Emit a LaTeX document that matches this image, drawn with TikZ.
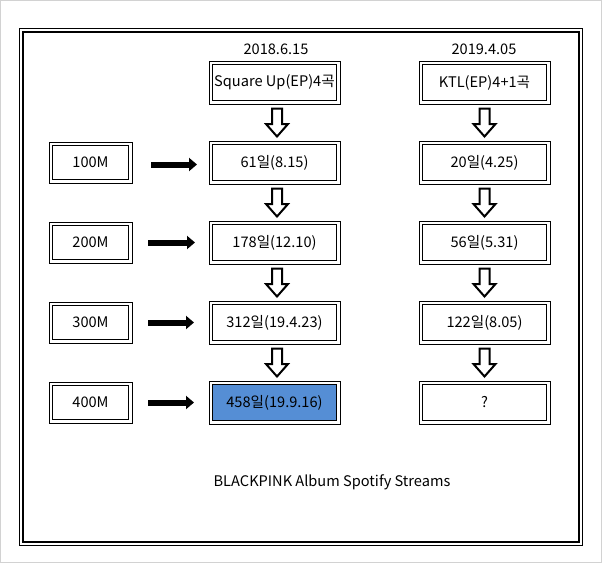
\documentclass[tikz,border=0pt]{standalone}
\usepackage{fontspec}
\setmainfont{Noto Sans CJK KR}
\usetikzlibrary{calc,arrows.meta}
\definecolor{boxblue}{RGB}{85,142,213}
\begin{document}
\begin{tikzpicture}[x=1pt,y=-1pt,font=\fontsize{14.6}{17}\selectfont,
  mainbox/.style={draw,line width=1pt,minimum width=131pt,minimum height=43pt,inner sep=0pt,outer sep=0pt},
  sidebox/.style={draw,line width=1pt,minimum width=83pt,minimum height=41pt,inner sep=0pt,outer sep=0pt},
  innerline/.style={line width=1.8pt},
  hollow/.style={draw,line width=2pt,fill=white,line join=miter},
  blackarrow/.style={line width=6pt,-{Triangle[length=8pt,width=13pt]}},
  lbl/.style={inner sep=0pt}]
\useasboundingbox (0,0) rectangle (602,563);
\draw[gray!35,line width=1pt] (0.5,0.5) rectangle (601.5,562.5);
% outer frame
\draw[line width=1pt] (19.5,28.5) rectangle (582.5,545.5);
\draw[line width=1.8pt] (23,32) rectangle (579,542);
% labels
\node[lbl] (d1) at (276,49) {2018.6.15};
\node[lbl] (d2) at (484,49) {2019.4.05};
\node[lbl] (cap) at (332,482) {BLACKPINK Album Spotify Streams};
% main boxes
\node[mainbox] (sq) at (274.5,82.5) {};
\node[mainbox] (ktl) at (484.5,82.5) {};
\node[mainbox] (a1) at (274.5,162.5) {};
\node[mainbox] (a2) at (274.5,242.5) {};
\node[mainbox] (a3) at (274.5,322.5) {};
\node[mainbox] (a4) at (274.5,402.5) {};
\node[mainbox] (b1) at (484.5,162.5) {};
\node[mainbox] (b2) at (484.5,242.5) {};
\node[mainbox] (b3) at (484.5,322.5) {};
\node[mainbox] (b4) at (484.5,402.5) {};
\node[sidebox] (m1) at (90.5,162.5) {};
\node[sidebox] (m2) at (90.5,242.5) {};
\node[sidebox] (m3) at (90.5,322.5) {};
\node[sidebox] (m4) at (90.5,402.5) {};
\foreach \n in {sq,ktl,a1,a2,a3,b1,b2,b3,b4,m1,m2,m3,m4}
  \draw[innerline] ([shift={(3.5,3.5)}]\n.north west) rectangle ([shift={(-3.5,-3.5)}]\n.south east);
\draw[innerline,fill=boxblue] ([shift={(3.5,3.5)}]a4.north west) rectangle ([shift={(-3.5,-3.5)}]a4.south east);
% texts
\node[lbl] at (sq) {Square Up(EP)4곡};
\node[lbl] at (ktl) {KTL(EP)4+1곡};
\node[lbl] at (a1) {61일(8.15)};
\node[lbl] at (a2) {178일(12.10)};
\node[lbl] at (a3) {312일(19.4.23)};
\node[lbl] at (a4) {458일(19.9.16)};
\node[lbl] at (b1) {20일(4.25)};
\node[lbl] at (b2) {56일(5.31)};
\node[lbl] at (b3) {122일(8.05)};
\node[lbl] at (b4) {?};
\node[lbl] at (m1) {100M};
\node[lbl] at (m2) {200M};
\node[lbl] at (m3) {300M};
\node[lbl] at (m4) {400M};
% hollow arrows
\foreach \u/\v/\dx in {sq/a1/2.5,a1/a2/2.5,a2/a3/2.5,a3/a4/2.5,ktl/b1/0,b1/b2/0,b2/b3/0,b3/b4/0}{
  \coordinate (h) at ($(\u.south)!0.5!(\v.north)+(\dx,0)$);
  \begin{scope}[shift={(h)}]
    \draw[hollow] (-5,-14) -- (5,-14) -- (5,1.5) -- (11,1.5) -- (0,14) -- (-11,1.5) -- (-5,1.5) -- cycle;
  \end{scope}
}
% black arrows
\draw[blackarrow] ($(m1.east)+(19,2)$) -- ($(a1.west)+(-12,2)$);
\draw[blackarrow] ($(m2.east)+(16,0)$) -- ($(a2.west)+(-14,0)$);
\draw[blackarrow] ($(m3.east)+(16,0)$) -- ($(a3.west)+(-15,0)$);
\draw[blackarrow] ($(m4.east)+(16,0)$) -- ($(a4.west)+(-15,0)$);
\end{tikzpicture}
\end{document}
